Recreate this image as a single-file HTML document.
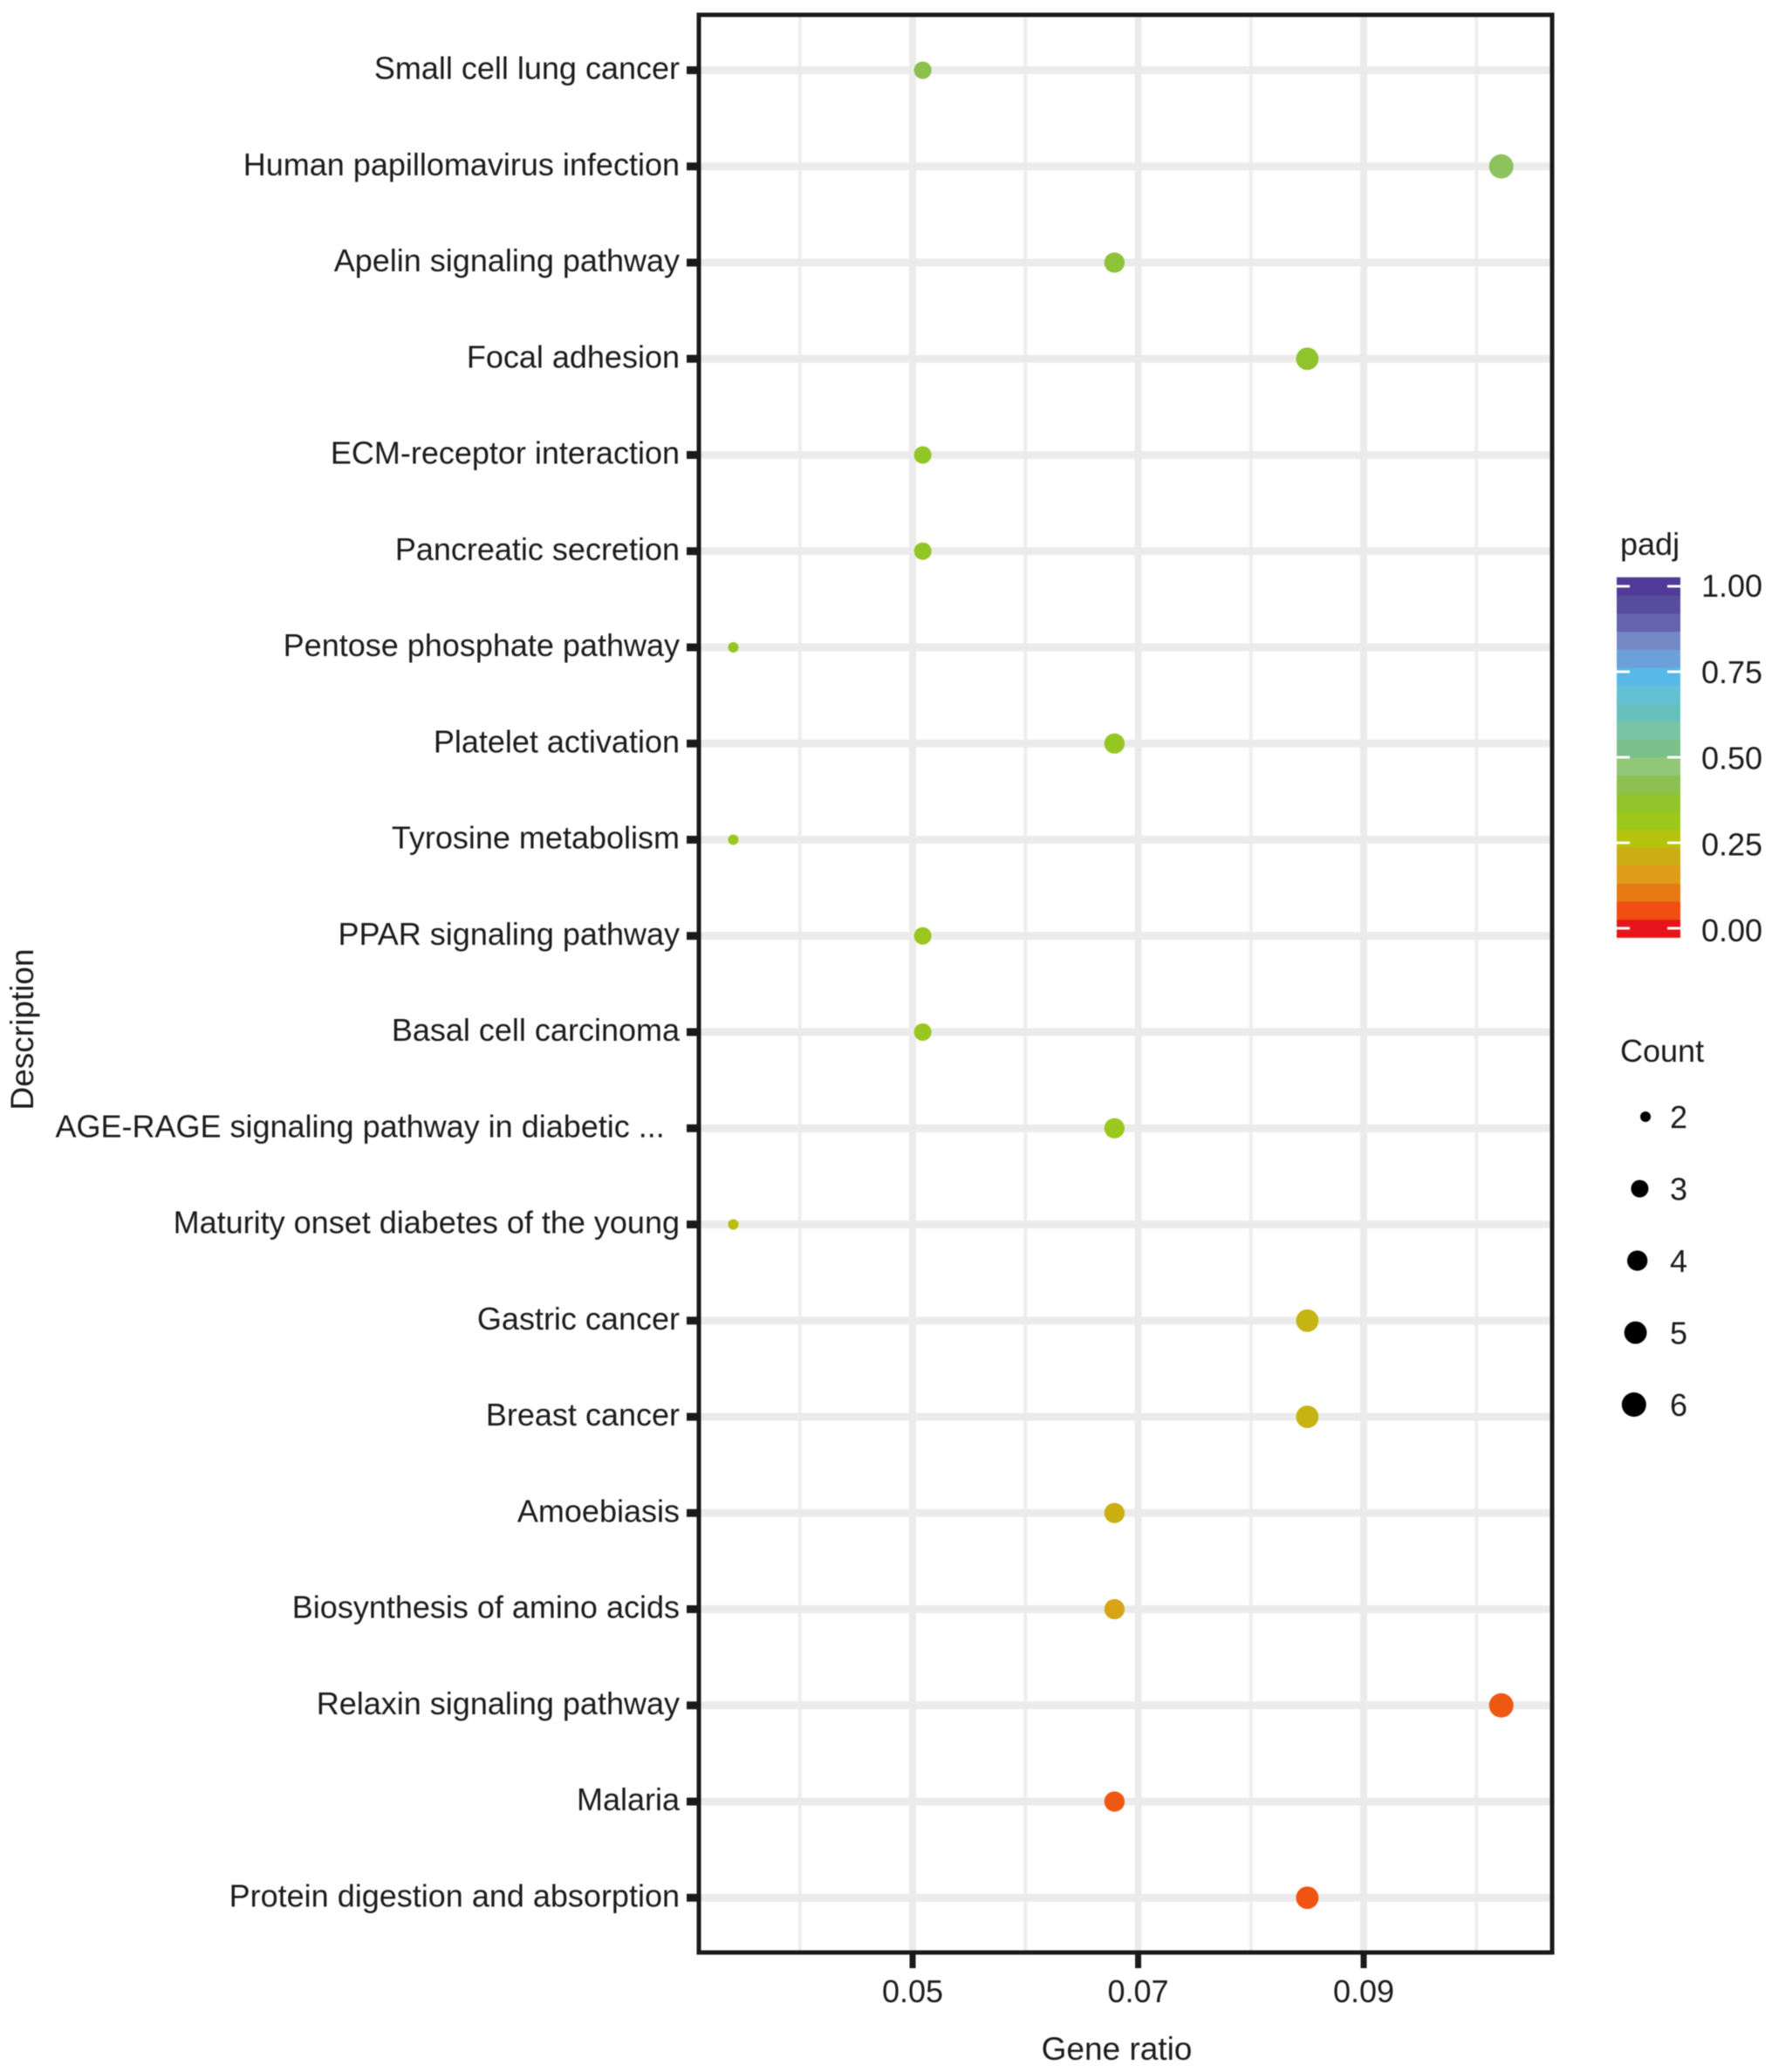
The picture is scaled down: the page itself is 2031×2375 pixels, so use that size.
<!DOCTYPE html>
<html lang="en">
<head>
<meta charset="utf-8">
<title>Gene ratio dot plot</title>
<style>
html,body{margin:0;padding:0;background:#fff;width:2031px;height:2375px;overflow:hidden}
svg{display:block;filter:blur(0.6px)}
text{font-family:"Liberation Sans",Arial,sans-serif;font-size:36px;fill:#1c1c1c}
</style>
</head>
<body>
<svg id="chart" xmlns="http://www.w3.org/2000/svg" width="2031" height="2375" viewBox="0 0 2031 2375">
  <rect x="0" y="0" width="2031" height="2375" fill="#ffffff"/>
  <g id="grid"></g>
  <g id="marks"></g>
  <rect x="801" y="17" width="978" height="2221" fill="none" stroke="#1a1a1a" stroke-width="5"/>
  <g id="yaxis"></g>
  <g id="xaxis"></g>
  <text x="1280" y="2361" text-anchor="middle" style="font-size:37px">Gene ratio</text>
  <text transform="translate(38,1180) rotate(-90)" text-anchor="middle" style="font-size:37px">Description</text>
  <g id="colorbar">
    <text x="1857" y="636">padj</text>
  </g>
  <g id="sizelegend">
    <text x="1857" y="1217">Count</text>
  </g>
</svg>
<script>
const categories = ["Small cell lung cancer","Human papillomavirus infection","Apelin signaling pathway","Focal adhesion","ECM-receptor interaction","Pancreatic secretion","Pentose phosphate pathway","Platelet activation","Tyrosine metabolism","PPAR signaling pathway","Basal cell carcinoma","AGE-RAGE signaling pathway in diabetic ...\u00A0\u2009","Maturity onset diabetes of the young","Gastric cancer","Breast cancer","Amoebiasis","Biosynthesis of amino acids","Relaxin signaling pathway","Malaria","Protein digestion and absorption"];
const geneRatio = [0.0509,0.1022,0.0679,0.0850,0.0509,0.0509,0.0341,0.0679,0.0341,0.0509,0.0509,0.0679,0.0341,0.0850,0.0850,0.0679,0.0679,0.1022,0.0679,0.0850];
const counts = [3,6,4,5,3,3,2,4,2,3,3,4,2,5,5,4,4,6,4,5];
const padj = [0.42,0.44,0.39,0.375,0.36,0.36,0.35,0.34,0.33,0.33,0.33,0.32,0.245,0.225,0.225,0.215,0.18,0.065,0.065,0.06];
const xMajorTicks = [0.05,0.07,0.09];
const xMinorTicks = [0.04,0.06,0.08,0.10];
const xTickLabels = ["0.05","0.07","0.09"];
const padjTicks = [0,0.25,0.5,0.75,1];
const padjTickLabels = ["0.00","0.25","0.50","0.75","1.00"];
const countLevels = [2,3,4,5,6];
const paletteBottomToTop = ["#e8141c","#f04e12","#e87a14","#e09c18","#ccae14","#b4c40c","#9cc81c","#90c428","#8cc050","#90c878","#7cc08c","#78c4a4","#68c0bc","#64c0d4","#58b8e8","#6ca0d8","#7488c4","#6464ac","#584c9c","#503c98"];

const NS = "http://www.w3.org/2000/svg";
function make(tag, attrs, parent, txt) {
  const el = document.createElementNS(NS, tag);
  for (const k in attrs) el.setAttribute(k, attrs[k]);
  if (txt !== undefined) el.textContent = txt;
  parent.appendChild(el);
  return el;
}
const panel = {left: 801, right: 1779, top: 17, bottom: 2238};
function xScale(v) { return 1046 + (v - 0.05) * 12925; }
function yScale(i) { return 80.5 + i * 110.25; }
function legendY(v) { return 1064 - 392 * v; }
function legendLabelY(v) { return 1066 - 395 * v; }
function radius(c) { return 6 + 8 * Math.sqrt((c - 2) / 4); }
function hexToRgb(h) { return [1,3,5].map(function (p) { return parseInt(h.substr(p, 2), 16); }); }
function colorOf(v) {
  const t = Math.max(0, Math.min(1, v)) * (paletteBottomToTop.length - 1);
  const a = Math.floor(t), b = Math.min(a + 1, paletteBottomToTop.length - 1), f = t - a;
  const ca = hexToRgb(paletteBottomToTop[a]), cb = hexToRgb(paletteBottomToTop[b]);
  return "rgb(" + ca.map(function (c, i) { return Math.round(c + (cb[i] - c) * f); }).join(",") + ")";
}

const grid = document.getElementById("grid");
const marks = document.getElementById("marks");
const yaxis = document.getElementById("yaxis");
const xaxis = document.getElementById("xaxis");
const colorbar = document.getElementById("colorbar");
const sizelegend = document.getElementById("sizelegend");

xMinorTicks.forEach(function (t) {
  const l = make("line", {x1: xScale(t), x2: xScale(t), y1: panel.top, y2: panel.bottom, stroke: "#eeeeee", "stroke-width": 4}, grid);
  
  
});
xMajorTicks.forEach(function (t, i) {
  const l = make("line", {x1: xScale(t), x2: xScale(t), y1: panel.top, y2: panel.bottom, stroke: "#ebebeb", "stroke-width": 8}, grid);
  
  
  const tick = make("line", {x1: xScale(t), x2: xScale(t), y1: panel.bottom, y2: panel.bottom + 18, stroke: "#1a1a1a", "stroke-width": 7}, xaxis);
  
  
  const lab = make("text", {x: xScale(t), y: 2295, "text-anchor": "middle"}, xaxis, xTickLabels[i]);
  
  
});
categories.forEach(function (name, i) {
  const y = yScale(i);
  const l = make("line", {x1: panel.left, x2: panel.right, y1: y, y2: y, stroke: "#ebebeb", "stroke-width": 9}, grid);
  
  
  const tick = make("line", {x1: 787, x2: 801, y1: y, y2: y, stroke: "#1a1a1a", "stroke-width": 9}, yaxis);
  
  
  const lab = make("text", {x: 779, y: y + 10, "text-anchor": "end"}, yaxis, name);
  
  
  const dot = make("circle", {cx: xScale(geneRatio[i]), cy: y, r: radius(counts[i]), fill: colorOf(padj[i])}, marks);
  
  
});
paletteBottomToTop.forEach(function (c, i) {
  const v = i / (paletteBottomToTop.length - 1);
  const h = 392 / (paletteBottomToTop.length - 1);
  const r = make("rect", {x: 1853, width: 73, y: legendY(v) - h / 2, height: h + 0.6, fill: c}, colorbar);
  
  
});
padjTicks.forEach(function (v, i) {
  const y = legendY(v);
  const a = make("line", {x1: 1853, x2: 1868, y1: y, y2: y, stroke: "#ffffff", "stroke-width": 3}, colorbar);
  
  
  const b = make("line", {x1: 1911, x2: 1926, y1: y, y2: y, stroke: "#ffffff", "stroke-width": 3}, colorbar);
  
  
  const t = make("text", {x: 1950, y: legendLabelY(v) + 13}, colorbar, padjTickLabels[i]);
  
  
});
countLevels.forEach(function (c, i) {
  const y = 1280 + i * 82.5;
  const r = radius(c);
  const dot = make("circle", {cx: 1886 - 1.65 * (r - 6), cy: y, r: r, fill: "#000000"}, sizelegend);
  
  
  const t = make("text", {x: 1914, y: y + 13}, sizelegend, String(c));
  
  
});
</script>
</body>
</html>
